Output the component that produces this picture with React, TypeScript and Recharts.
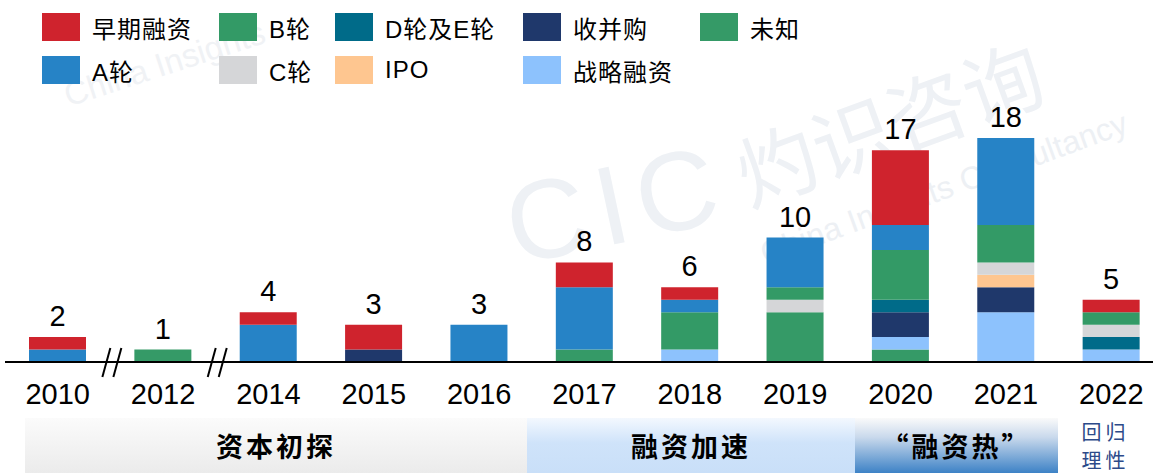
import type { JSX } from "react";

import { Bar, BarChart, LabelList, XAxis, YAxis } from "recharts";

const years = ["2010", "2012", "2014", "2015", "2016", "2017", "2018", "2019", "2020", "2021", "2022"];

// stack order, bottom to top
const unknown = [0, 1, 0, 0, 0, 1, 0, 4, 1, 0, 0];
const strategic = [0, 0, 0, 0, 0, 0, 1, 0, 1, 4, 1];
const mergers = [0, 0, 0, 1, 0, 0, 0, 0, 2, 2, 0];
const ipo = [0, 0, 0, 0, 0, 0, 0, 0, 0, 1, 0];
const roundDE = [0, 0, 0, 0, 0, 0, 0, 0, 1, 0, 1];
const roundC = [0, 0, 0, 0, 0, 0, 0, 1, 0, 1, 1];
const roundB = [0, 0, 0, 0, 0, 0, 3, 1, 4, 3, 1];
const roundA = [1, 0, 3, 0, 3, 5, 1, 4, 2, 7, 0];
const early = [1, 0, 1, 2, 0, 2, 1, 0, 6, 0, 1];

const series = [
	{ key: "unknown", name: "未知", values: unknown, color: "#359a67" },
	{ key: "strategic", name: "战略融资", values: strategic, color: "#8dc2fd" },
	{ key: "mergers", name: "收并购", values: mergers, color: "#1f386b" },
	{ key: "ipo", name: "IPO", values: ipo, color: "#fec690" },
	{ key: "roundDE", name: "D轮及E轮", values: roundDE, color: "#006b89" },
	{ key: "roundC", name: "C轮", values: roundC, color: "#d5d6d8" },
	{ key: "roundB", name: "B轮", values: roundB, color: "#339a66" },
	{ key: "roundA", name: "A轮", values: roundA, color: "#2683c6" },
	{ key: "early", name: "早期融资", values: early, color: "#cf232d" },
];

// legend reads column by column, two rows
const legendOrder = ["early", "roundA", "roundB", "roundC", "roundDE", "ipo", "mergers", "strategic", "unknown"];
const legendColumns = [42, 219, 335, 523, 700];

const phases = [
	{ label: "资本初探", left: 25, width: 502, bg: "linear-gradient(#fbfbfb, #ebebeb)" },
	{ label: "融资加速", left: 527, width: 328, bg: "linear-gradient(#f3f8fe, #cfe3fa 45%, #c9dff8)" },
	{ label: "“融资热”", left: 855, width: 203, bg: "linear-gradient(#fafafa, #c9d9ec 35%, #3d82c6)" },
];

// total goes on the top non-empty segment of each stack
const data = years.map((year, i) => {
	const row: Record<string, string | number> = { year };
	let total = 0;
	let topKey = "";
	series.forEach((s) => {
		row[s.key] = s.values[i];
		total += s.values[i];
		if (s.values[i] > 0) topKey = s.key;
	});
	series.forEach((s) => {
		row[s.key + "Label"] = s.key === topKey ? total : "";
	});
	return row;
});

const LATIN = '"Liberation Sans", Arial, "Noto Sans CJK SC", sans-serif';
const STEP = 1159 / years.length;

function YearTick(props: any): JSX.Element {
	const { x, y, index } = props;
	const axisY = y - 8;
	const bx = x - STEP / 2;
	return (
		<g>
			<text x={x} y={y + 34} textAnchor="middle" fontSize={29} fill="#000" fontFamily={LATIN}>
				{props.payload.value}
			</text>
			{(index === 1 || index === 2) && (
				<g stroke="#000" strokeWidth={2}>
					<line x1={bx - 8} y1={axisY + 15} x2={bx} y2={axisY - 14} />
					<line x1={bx + 3} y1={axisY + 15} x2={bx + 11} y2={axisY - 14} />
				</g>
			)}
		</g>
	);
}

export default function App(): JSX.Element {
	return (
		<div style={{ position: "absolute", left: 0, top: 0, width: 1153, height: 473, background: "#fff", overflow: "hidden", fontFamily: LATIN }}>
			{/* watermark */}
			<div style={{ position: "absolute", left: 728, top: 62, fontSize: 80, color: "#eef1f5", transform: "rotate(-20deg)", fontFamily: '"Noto Sans CJK SC"', fontWeight: 400, whiteSpace: "nowrap" }}>灼识咨询</div>
			<div style={{ position: "absolute", left: 750, top: 170, fontSize: 32, color: "#edf0f4", transform: "rotate(-20deg)", whiteSpace: "nowrap" }}>China Insights Consultancy</div>
			<div style={{ position: "absolute", left: 505, top: 140, fontSize: 112, color: "#eef1f5", transform: "rotate(-12deg)", letterSpacing: 10, whiteSpace: "nowrap" }}>CIC</div>
			<div style={{ position: "absolute", left: 60, top: 45, fontSize: 33, color: "#f0f2f5", transform: "rotate(-18deg)", whiteSpace: "nowrap" }}>China Insights</div>

			<div style={{ position: "absolute", left: 0, top: 0 }}>
				<BarChart width={1153} height={473} data={data} margin={{ top: 113, right: -11, bottom: 51, left: 5 }} barSize={57}>
					<XAxis dataKey="year" height={60} interval={0} tickLine={false} axisLine={{ stroke: "#000", strokeWidth: 2 }} tick={<YearTick />} />
					<YAxis hide domain={[0, 20]} />
					{series.map((s) => (
						<Bar key={s.key} dataKey={s.key} name={s.name} stackId="a" fill={s.color} isAnimationActive={false}>
							<LabelList dataKey={s.key + "Label"} position="top" offset={11} fill="#000" fontSize={29} fontFamily={LATIN} />
						</Bar>
					))}
				</BarChart>
			</div>

			{/* legend */}
			{legendOrder.map((key, i) => {
				const s = series.find((d) => d.key === key)!;
				const col = Math.floor(i / 2);
				const row = i % 2;
				return (
					<div key={key} style={{ position: "absolute", left: legendColumns[col], top: 13 + row * 43, height: 28, display: "flex", alignItems: "center" }}>
						<div style={{ width: 38, height: 28, background: s.color }} />
						<span style={{ marginLeft: 12, fontSize: 24, color: "#000", whiteSpace: "nowrap", letterSpacing: 1 }}>{s.name}</span>
					</div>
				);
			})}

			{/* phase bands */}
			{phases.map((p) => (
				<div
					key={p.label}
					style={{
						position: "absolute",
						left: p.left,
						top: 418,
						width: p.width,
						height: 55,
						background: p.bg,
						display: "flex",
						alignItems: "center",
						justifyContent: "center",
						fontFamily: '"Noto Sans CJK SC", sans-serif',
						fontWeight: 700,
						fontSize: 27,
						letterSpacing: 3,
						color: "#000",
					}}
				>
					{p.label}
				</div>
			))}
			<div
				style={{
					position: "absolute",
					left: 1058,
					top: 418,
					width: 95,
					textAlign: "center",
					fontFamily: '"Noto Sans CJK SC", sans-serif',
					fontSize: 20,
					lineHeight: "28px",
					letterSpacing: 4,
					color: "#2c4a89",
				}}
			>
				回归
				<br />
				理性
			</div>
		</div>
	);
}
